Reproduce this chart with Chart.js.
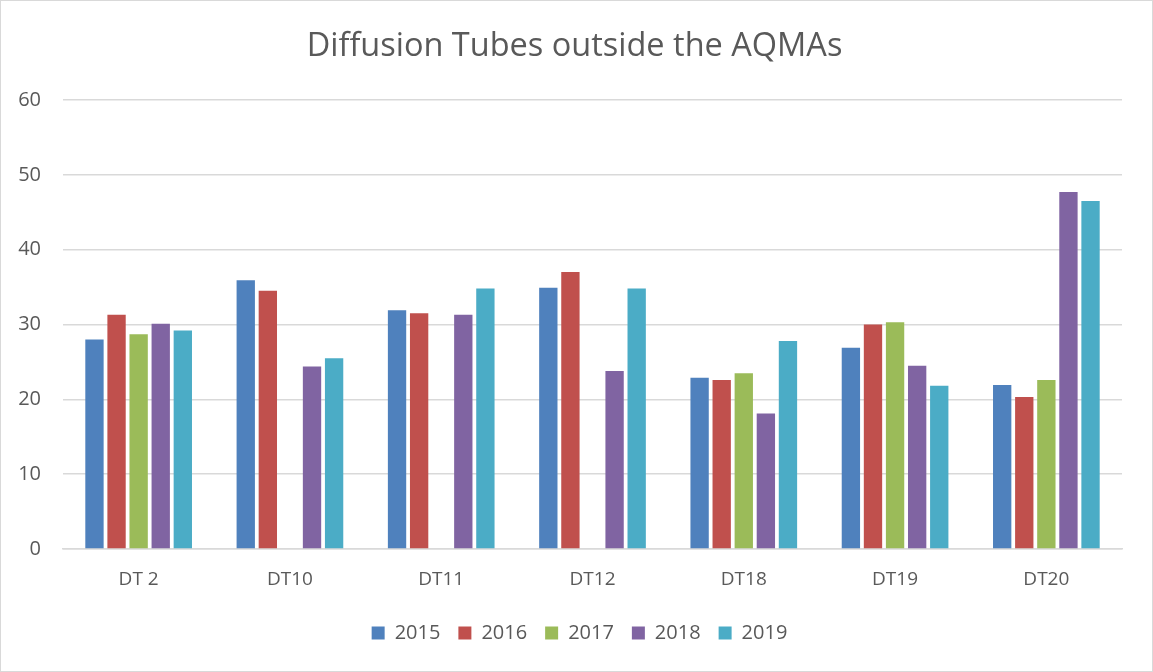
<!DOCTYPE html>
<html>
<head>
<meta charset="utf-8">
<script src="https://cdn.jsdelivr.net/npm/chart.js@4"></script>
<style>
  html, body { margin: 0; padding: 0; background: #fff; }
  .wrap { position: relative; width: 1151px; height: 670px; border: 1px solid #d9d9d9; }
</style>
</head>
<body>
<div class="wrap"><canvas class="tubesChart"></canvas></div>
<script>
// Data
const sites = ['DT 2', 'DT10', 'DT11', 'DT12', 'DT18', 'DT19', 'DT20'];
const years = ['2015', '2016', '2017', '2018', '2019'];
const v2015 = [28.0, 35.9, 31.9, 34.9, 22.9, 26.9, 21.9];
const v2016 = [31.3, 34.5, 31.5, 37.0, 22.6, 30.0, 20.3];
const v2017 = [28.7, null, null, null, 23.5, 30.3, 22.6];
const v2018 = [30.1, 24.4, 31.3, 23.8, 18.1, 24.5, 47.7];
const v2019 = [29.2, 25.5, 34.8, 34.8, 27.8, 21.8, 46.5];
const yTicks = [0, 10, 20, 30, 40, 50, 60];

const colours = ['#4f81bd', '#c0504d', '#9bbb59', '#8064a2', '#4bacc6'];
const series = [v2015, v2016, v2017, v2018, v2019];

// title and legend in the original sit a little right of the canvas centre
const nudgeBlocks = {
    id: 'nudgeBlocks',
    afterLayout(chart) {
        chart.titleBlock.left += 26;
        chart.legend.left += 36;
    }
};

const ctx = document.querySelector('.tubesChart');

new Chart(ctx, {
    type: 'bar',
    data: {
        labels: sites,
        datasets: series.map((d, i) => ({
            label: years[i],
            data: d,
            backgroundColor: colours[i],
            borderWidth: 0,
            barPercentage: 0.83,
            categoryPercentage: 0.73
        }))
    },
    options: {
        responsive: true,
        maintainAspectRatio: false,
        animation: false,
        layout: { padding: { left: 0, right: 30, top: 26, bottom: 18 } },
        plugins: {
            title: {
                display: true,
                text: 'Diffusion Tubes outside the AQMAs',
                color: '#595959',
                font: { family: 'Open Sans', size: 32.5, weight: 'normal' },
                padding: { top: 0, bottom: 34 }
            },
            legend: {
                position: 'bottom',
                labels: {
                    color: '#595959',
                    font: { family: 'Open Sans', size: 20 },
                    boxWidth: 13,
                    boxHeight: 13,
                    padding: 18
                }
            },
            tooltip: { enabled: false }
        },
        scales: {
            x: {
                afterFit: s => { s.height = 56; },
                grid: { display: false, drawTicks: false },
                border: { color: '#d9d9d9', width: 1.5 },
                ticks: { color: '#595959', font: { family: 'Open Sans', size: 19 }, padding: 19 }
            },
            y: {
                min: 0,
                max: 60,
                afterBuildTicks: s => { s.ticks = yTicks.map(v => ({ value: v })); },
                afterFit: s => { s.width = 62; },
                grid: { color: '#d9d9d9', lineWidth: 1.5, drawTicks: false },
                border: { display: false },
                ticks: { color: '#595959', font: { family: 'Open Sans', size: 20 }, padding: 22 }
            }
        }
    },
    plugins: [nudgeBlocks]
});
</script>
</body>
</html>
